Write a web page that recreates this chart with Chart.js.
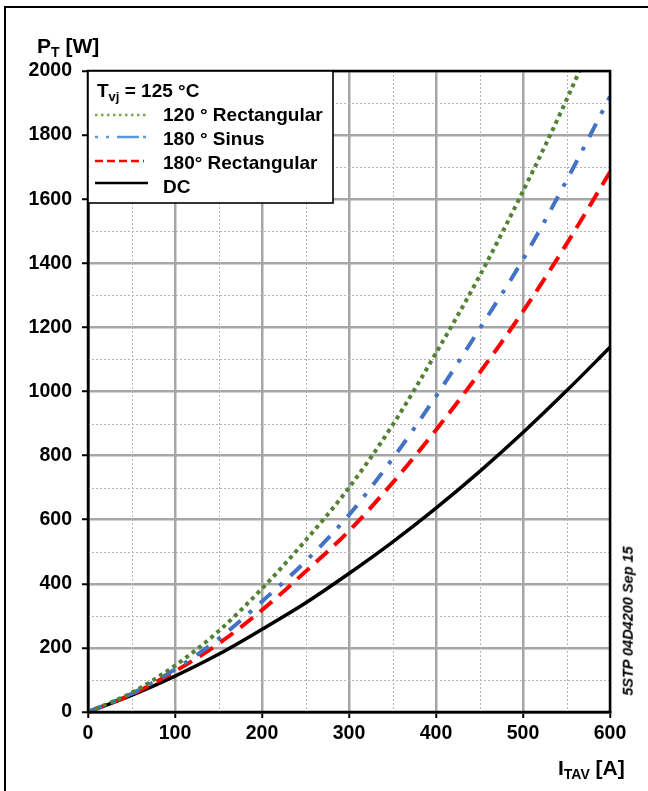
<!DOCTYPE html>
<html><head><meta charset="utf-8">
<script src="https://cdn.jsdelivr.net/npm/chart.js@4/dist/chart.umd.min.js"></script>
<style>
html,body{margin:0;padding:0;background:#fff;}
#wrap{position:relative;width:648px;height:791px;overflow:hidden;font-family:"Liberation Sans",Arial,sans-serif;}
#frame{position:absolute;left:4px;top:6px;width:700px;height:800px;border-left:2px solid #000;border-top:2px solid #000;}
canvas{position:absolute;left:0;top:0;}
.t{position:absolute;font-weight:bold;color:#000;white-space:nowrap;line-height:1;}
.t sub{font-size:14px;vertical-align:baseline;position:relative;top:4px;}
#ytitle{left:37px;top:35px;font-size:21px;}
#xtitle{left:558px;top:757px;font-size:21px;}
#code{position:absolute;left:628px;top:621px;transform:translate(-50%,-50%) rotate(-90deg);font-size:14.5px;font-weight:bold;font-style:italic;white-space:nowrap;line-height:1;}
</style></head>
<body>
<div id="wrap">
<div id="frame"></div>
<canvas id="c" width="648" height="791"></canvas>
<div class="t" id="ytitle">P<sub>T</sub> [W]</div>
<div class="t" id="xtitle">I<sub>TAV</sub> [A]</div>
<div id="code">5STP 04D4200 Sep 15</div>
</div>
<script>
const currentA = [0, 50, 100, 150, 200, 250, 300, 350, 400, 450, 500, 550, 600];
const dcW      = [0, 52, 112, 180, 258, 340, 432, 530, 636, 750, 872, 1002, 1138];
const rect180W = [0, 55, 127, 213, 318, 438, 565, 715, 880, 1058, 1250, 1460, 1685];
const sine180W = [0, 57, 133, 228, 345, 470, 615, 790, 985, 1195, 1412, 1658, 1920];
const rect120W = [0, 60, 145, 252, 385, 535, 700, 895, 1120, 1360, 1625, 1910, 2220];
const legendTitle = ["T", "vj", " = 125 °C"];
const seriesNames = ["120 ° Rectangular", "180 ° Sinus", "180° Rectangular", "DC"];
const xMinorTicks = [50, 150, 250, 350, 450, 550];
const yMinorTicks = [100, 300, 500, 700, 900, 1100, 1300, 1500, 1700, 1900];

const FONT = '"Liberation Sans", Arial, sans-serif';
const pts = ys => ys.map((y, i) => ({x: currentA[i], y}));

const styles = [
  {color: '#548235', width: 4, dash: [4, 4], lgColor: '#70ad47', lgWidth: 2.5, lgDash: [2.5, 3.5]},
  {color: '#4472c4', width: 4, dash: [15, 11, 4, 11], lgColor: '#5b9bd5', lgWidth: 2.5, lgDash: [3, 8, 3, 8, 22, 4]},
  {color: '#ff0000', width: 4, dash: [16, 9], lgColor: '#ff0000', lgWidth: 2.5, lgDash: [8, 4]},
  {color: '#000000', width: 3.5, dash: [], lgColor: '#000000', lgWidth: 2.5, lgDash: []}
];
const seriesData = [rect120W, sine180W, rect180W, dcW];

const minorGrid = {
  id: 'minorGrid',
  beforeDatasetsDraw(chart) {
    const {ctx, chartArea: ca, scales: {x, y}} = chart;
    ctx.save();
    ctx.strokeStyle = '#b4b4b4';
    ctx.lineWidth = 1;
    ctx.setLineDash([2, 2]);
    xMinorTicks.forEach(v => {
      const px = Math.round(x.getPixelForValue(v)) + 0.5;
      ctx.beginPath(); ctx.moveTo(px, ca.top); ctx.lineTo(px, ca.bottom); ctx.stroke();
    });
    yMinorTicks.forEach(v => {
      const py = Math.round(y.getPixelForValue(v)) + 0.5;
      ctx.beginPath(); ctx.moveTo(ca.left, py); ctx.lineTo(ca.right, py); ctx.stroke();
    });
    ctx.restore();
  }
};

const frameAndLegend = {
  id: 'frameAndLegend',
  afterDraw(chart) {
    const {ctx, chartArea: ca} = chart;
    ctx.save();
    ctx.strokeStyle = '#000';
    ctx.lineWidth = 2.5;
    ctx.setLineDash([]);
    ctx.strokeRect(ca.left, ca.top, ca.right - ca.left, ca.bottom - ca.top);
    const bx = ca.left, by = ca.top, bw = 245, bh = 132;
    ctx.fillStyle = '#fff';
    ctx.fillRect(bx, by, bw, bh);
    ctx.lineWidth = 1.6;
    ctx.strokeRect(bx, by, bw, bh);
    ctx.fillStyle = '#000';
    ctx.textBaseline = 'alphabetic';
    ctx.font = 'bold 19px ' + FONT;
    let tx = bx + 9;
    const tb = by + 26;
    ctx.fillText(legendTitle[0], tx, tb);
    tx += ctx.measureText(legendTitle[0]).width;
    ctx.font = 'bold 13px ' + FONT;
    ctx.fillText(legendTitle[1], tx, tb + 4);
    tx += ctx.measureText(legendTitle[1]).width;
    ctx.font = 'bold 19px ' + FONT;
    ctx.fillText(legendTitle[2], tx, tb);
    const lineY = [44, 66, 90, 112];
    const textY = [45, 69, 93, 117];
    styles.forEach((s, i) => {
      ctx.strokeStyle = s.lgColor;
      ctx.lineWidth = s.lgWidth;
      ctx.setLineDash(s.lgDash);
      ctx.beginPath();
      ctx.moveTo(bx + 7, by + lineY[i]);
      ctx.lineTo(bx + (i === 2 ? 56 : 60), by + lineY[i]);
      ctx.stroke();
      ctx.setLineDash([]);
      ctx.fillStyle = '#000';
      ctx.font = 'bold 19px ' + FONT;
      ctx.textBaseline = 'middle';
      ctx.fillText(seriesNames[i], bx + 75, by + textY[i]);
    });
    ctx.restore();
  }
};

new Chart(document.getElementById('c'), {
  type: 'line',
  data: {
    datasets: seriesData.map((d, i) => ({
      label: seriesNames[i],
      data: pts(d),
      borderColor: styles[i].color,
      borderWidth: styles[i].width,
      borderDash: styles[i].dash,
      pointRadius: 0,
      fill: false,
      cubicInterpolationMode: 'monotone'
    }))
  },
  options: {
    responsive: false,
    animation: false,
    devicePixelRatio: 1,
    layout: {padding: {left: 0, top: 71, right: 38, bottom: 39}},
    plugins: {legend: {display: false}, tooltip: {enabled: false}},
    scales: {
      x: {
        type: 'linear', min: 0, max: 600,
        afterFit: s => { s.height = 40; },
        ticks: {stepSize: 100, color: '#000', font: {family: FONT, size: 19.5, weight: 'bold'}, padding: 4, maxRotation: 0, callback: v => String(v)},
        grid: {color: '#a6a6a6', lineWidth: 2.5, tickLength: 6, tickColor: '#000', tickWidth: 2},
        border: {display: true, color: '#000', width: 2.5}
      },
      y: {
        type: 'linear', min: 0, max: 2000,
        afterFit: s => { s.width = 88; },
        ticks: {stepSize: 200, color: '#000', font: {family: FONT, size: 19.5, weight: 'bold'}, padding: 10, callback: v => String(v)},
        grid: {color: '#a6a6a6', lineWidth: 2.5, tickLength: 6, tickColor: '#000', tickWidth: 2},
        border: {display: true, color: '#000', width: 2.5}
      }
    }
  },
  plugins: [minorGrid, frameAndLegend]
});
</script>
</body></html>
